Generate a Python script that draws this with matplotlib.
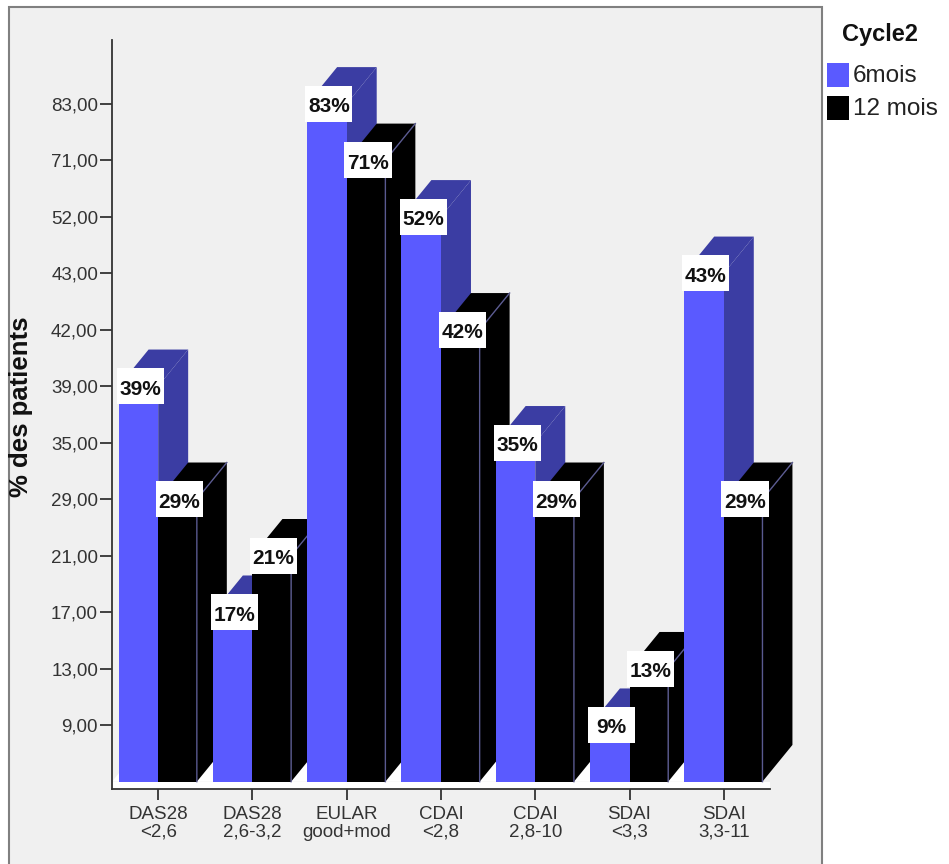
import matplotlib.pyplot as plt
from matplotlib.patches import Rectangle, Polygon

plt.rcParams['font.family'] = ['Liberation Sans', 'DejaVu Sans']

categories = ["DAS28\n<2,6", "DAS28\n2,6-3,2", "EULAR\ngood+mod", "CDAI\n<2,8",
              "CDAI\n2,8-10", "SDAI\n<3,3", "SDAI\n3,3-11"]
mois6 = [39, 17, 83, 52, 35, 9, 43]
mois12 = [29, 21, 71, 42, 29, 13, 29]
series_names = ["6mois", "12 mois"]
legend_title = "Cycle2"

# the value axis is ordinal: one evenly spaced step per distinct value
levels = sorted(set(mois6 + mois12))
level_labels = [f"{v},00" for v in levels]


def level_pos(v):
    return levels.index(v) + 1


W, H = 949, 864
fig = plt.figure(figsize=(W / 100, H / 100), dpi=100)
fig.patch.set_facecolor('white')

# chart frame
fig.patches.append(Rectangle((9 / W, -0.01), (822 - 9) / W, 1.01 - 7 / H,
                             transform=fig.transFigure, facecolor='#f0f0f0',
                             edgecolor='#808080', lw=1.5, zorder=-5))

ax = fig.add_axes([112 / W, 75 / H, 658 / W, 749 / H])
ax.set_facecolor('none')
ax.set_xlim(-0.49, 6.49)
ax.set_ylim(-0.13, 13.13)

blue, blue_dark = '#5a5aff', '#3b3da3'
black, black_edge = '#000000', '#5a5a90'
dx, dy = 0.318, 0.65
w_blue, w_black = 0.42, 0.41

# white floor under the bars
ax.add_patch(Rectangle((-0.49, -0.13), 6.98, 0.13, facecolor='white',
                       edgecolor='none', zorder=1))
ax.add_patch(Polygon([(-0.49, 0), (6.41, 0), (6.41 + dx, dy), (-0.49 + dx, dy)],
                     closed=True, facecolor='white', edgecolor='none',
                     zorder=1, clip_on=False))


def bar3d(x0, w, h, front, shade, z):
    side = [(x0 + w, 0), (x0 + w + dx, dy), (x0 + w + dx, h + dy), (x0 + w, h)]
    top = [(x0, h), (x0 + dx, h + dy), (x0 + w + dx, h + dy), (x0 + w, h)]
    ax.add_patch(Polygon(side, closed=True, facecolor=shade, edgecolor='none',
                         zorder=z, clip_on=False))
    ax.add_patch(Polygon(top, closed=True, facecolor=shade, edgecolor='none',
                         zorder=z, clip_on=False))
    ax.add_patch(Rectangle((x0, 0), w, h, facecolor=front, edgecolor='none',
                           zorder=z, clip_on=False))


z = 2
for i, (a, b) in enumerate(zip(mois6, mois12)):
    ha, hb = level_pos(a), level_pos(b)
    bar3d(i - w_blue, w_blue, ha, blue, blue_dark, z)
    z += 0.01
    bar3d(i, w_black, hb, black, black, z)
    ax.plot([i + w_black, i + w_black, i + w_black + dx],
            [0, hb, hb + dy], color=black_edge, lw=1.0, zorder=z + 0.001,
            clip_on=False)
    z += 0.01

# value labels
for i, (a, b) in enumerate(zip(mois6, mois12)):
    for xc, v in ((i - w_blue / 2 + 0.02, a), (i + w_black / 2 + 0.02, b)):
        h = level_pos(v)
        ax.add_patch(Rectangle((xc - 0.25, h - 0.32), 0.5, 0.64, facecolor='white',
                               edgecolor='none', zorder=10))
        ax.text(xc, h - 0.05, f"{v}%", ha='center', va='center', fontsize=15,
                fontweight='bold', color='#111111', zorder=11)

ax.set_yticks(range(1, len(levels) + 1))
ax.set_yticklabels(level_labels)
ax.set_xticks(range(len(categories)))
ax.set_xticklabels(categories, linespacing=1.1)
for s in ('top', 'right'):
    ax.spines[s].set_visible(False)
for s in ('left', 'bottom'):
    ax.spines[s].set_color('#333333')
    ax.spines[s].set_linewidth(1.3)
    ax.spines[s].set_zorder(12)
ax.tick_params(axis='y', length=9, width=1.3, pad=1, labelsize=13.5,
               colors='#333333')
ax.tick_params(axis='x', length=8, width=1.3, pad=4, labelsize=13.5,
               colors='#333333')

fig.text(21 / W, 1 - 407 / H, "% des patients", rotation=90, ha='center',
         va='center', fontsize=18.5, fontweight='bold', color='#111111')

# legend
fig.text(842 / W, 1 - 34 / H, legend_title, ha='left', va='center',
         fontsize=17, fontweight='bold', color='#111111')
for k, (name, col) in enumerate(zip(series_names, (blue, black))):
    top = 63 + k * 33
    fig.patches.append(Rectangle((827 / W, 1 - (top + 24) / H), 22 / W, 24 / H,
                                 transform=fig.transFigure, facecolor=col,
                                 edgecolor='none'))
    fig.text(853 / W, 1 - (top + 13) / H, name, ha='left', va='center',
             fontsize=17.5, color='#222222')

fig.savefig('out.png', dpi=100)
